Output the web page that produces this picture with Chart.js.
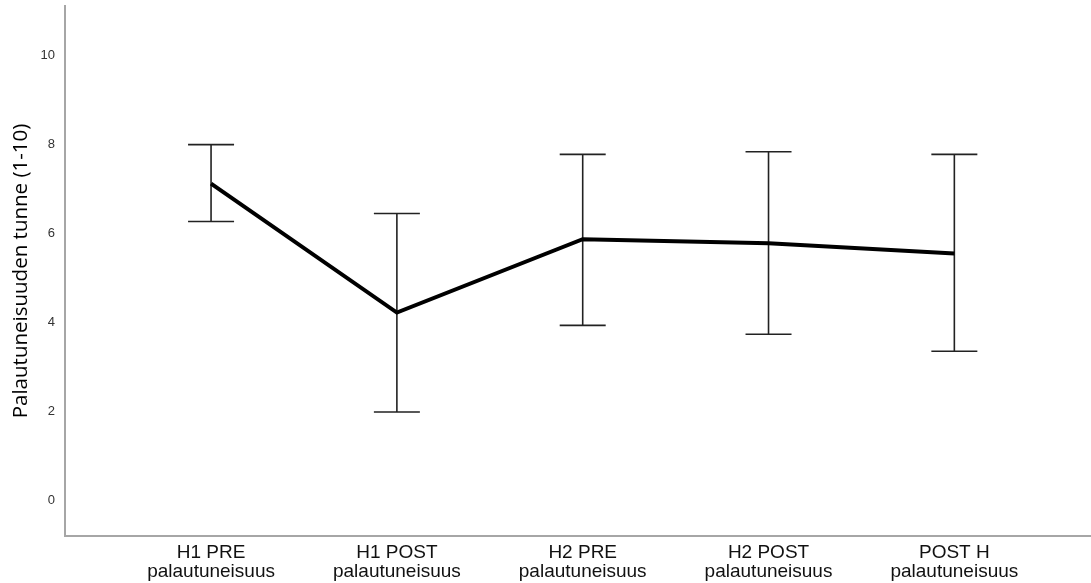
<!DOCTYPE html>
<html>
<head>
<meta charset="utf-8">
<script src="https://cdn.jsdelivr.net/npm/chart.js@4/dist/chart.umd.min.js"></script>
<style>
  body { margin: 0; background: #fff; }
  .chart-box { width: 1091px; height: 583px; }
</style>
</head>
<body>
<div class="chart-box"><canvas id="recoveryChart"></canvas></div>
<script>
const categories = [
    ["H1 PRE", "palautuneisuus"],
    ["H1 POST", "palautuneisuus"],
    ["H2 PRE", "palautuneisuus"],
    ["H2 POST", "palautuneisuus"],
    ["POST H", "palautuneisuus"]
];
const means = [7.12, 4.22, 5.87, 5.78, 5.55];
const errLow = [6.27, 1.98, 3.93, 3.73, 3.35];
const errHigh = [8.0, 6.45, 7.78, 7.84, 7.78];
const yTicks = [0, 2, 4, 6, 8, 10];

const points = means.map((m, i) => ({ x: i, y: m }));

// error bars drawn with the chart's own scales
const errorBars = {
    id: "errorBars",
    beforeDatasetsDraw(chart) {
        const { ctx, scales: { x, y } } = chart;
        ctx.save();
        ctx.strokeStyle = "#222";
        ctx.lineWidth = 1.6;
        errLow.forEach((lo, i) => {
            const px = x.getPixelForValue(i);
            const top = y.getPixelForValue(errHigh[i]);
            const bot = y.getPixelForValue(lo);
            ctx.beginPath();
            ctx.moveTo(px, top);
            ctx.lineTo(px, bot);
            ctx.moveTo(px - 23, top);
            ctx.lineTo(px + 23, top);
            ctx.moveTo(px - 23, bot);
            ctx.lineTo(px + 23, bot);
            ctx.stroke();
        });
        ctx.restore();
    }
};

new Chart(document.getElementById("recoveryChart"), {
    type: "line",
    data: {
        datasets: [{
            data: points,
            borderColor: "#000",
            borderWidth: 4,
            pointRadius: 0,
            tension: 0,
            clip: false
        }]
    },
    options: {
        responsive: true,
        maintainAspectRatio: false,
        animation: false,
        layout: { padding: { top: 6, right: 1, left: 0, bottom: 0 } },
        plugins: {
            legend: { display: false },
            tooltip: { enabled: false }
        },
        scales: {
            x: {
                type: "linear",
                min: -0.786,
                max: 4.73,
                afterBuildTicks: scale => { scale.ticks = categories.map((c, i) => ({ value: i })); },
                afterFit: scale => { scale.height = 47; },
                grid: { display: false, drawTicks: false },
                border: { display: true, color: "#a6a6a6", width: 2 },
                ticks: {
                    autoSkip: false,
                    maxRotation: 0,
                    padding: 7,
                    color: "#111",
                    font: { family: "'Liberation Sans', Arial, sans-serif", size: 19, lineHeight: 1.0 },
                    callback: value => categories[value]
                }
            },
            y: {
                min: -0.81,
                max: 11.12,
                afterBuildTicks: scale => { scale.ticks = yTicks.map(v => ({ value: v })); },
                afterFit: scale => {
                    scale.width = 65;
                    scale.paddingTop = 0;
                    scale.paddingBottom = 0;
                },
                grid: { display: false, drawTicks: false },
                border: { display: true, color: "#a6a6a6", width: 2 },
                ticks: {
                    padding: 10,
                    color: "#333",
                    font: { family: "'Liberation Sans', Arial, sans-serif", size: 13 }
                },
                title: {
                    display: true,
                    text: "Palautuneisuuden tunne (1-10)",
                    color: "#000",
                    padding: { top: 9, bottom: 0 },
                    font: { family: "'Open Sans', sans-serif", size: 20.5, lineHeight: 1.2 }
                }
            }
        }
    },
    plugins: [errorBars]
});
</script>
</body>
</html>
